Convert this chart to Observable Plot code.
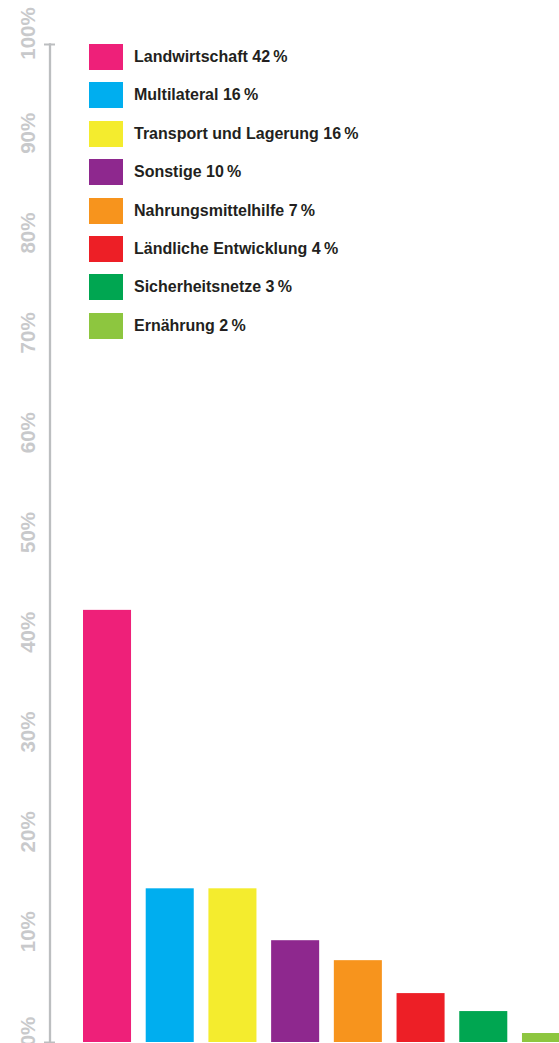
<!DOCTYPE html>
<html>
<head>
<meta charset="utf-8">
<script src="https://cdn.jsdelivr.net/npm/d3@7"></script>
<script src="https://cdn.jsdelivr.net/npm/@observablehq/plot@0.6"></script>
<style>
  html, body { margin: 0; padding: 0; background: #fff; overflow: hidden; }
  #wrap { position: relative; width: 559px; height: 1043px; overflow: hidden; }
  #legend { position: absolute; left: 89px; top: 44px; font-family: "Liberation Sans", Arial, sans-serif; }
  .row { display: flex; align-items: center; height: 26px; margin-bottom: 12.4px; }
  .sw { width: 34px; height: 26px; flex: none; }
  .lab { margin-left: 11px; font-size: 16px; font-weight: bold; color: #231f20; white-space: nowrap; }
</style>
</head>
<body>
<div id="wrap"><div id="legend"></div></div>
<script>
const categories = ["Landwirtschaft", "Multilateral", "Transport und Lagerung", "Sonstige", "Nahrungsmittelhilfe", "Ländliche Entwicklung", "Sicherheitsnetze", "Ernährung"];
const shares = [42, 16, 16, 10, 7, 4, 3, 2];
const barValues = [43.3, 15.4, 15.4, 10.2, 8.2, 4.9, 3.1, 0.9];
const colors = ["#ee2079", "#00aeef", "#f4ec2e", "#8e288e", "#f7941d", "#ed1f26", "#00a651", "#8dc63f"];
const yTicks = [0, 10, 20, 30, 40, 50, 60, 70, 80, 90, 100];

const data = categories.map((c, i) => ({name: c, value: barValues[i]}));
const font = '"Liberation Sans", Arial, sans-serif';

const chart = Plot.plot({
  width: 559,
  height: 1043,
  marginLeft: 49.5,
  marginTop: 44,
  marginBottom: 1,
  marginRight: 0,
  style: {fontFamily: font, background: "white", overflow: "hidden"},
  x: {domain: categories, range: [83, 570], paddingInner: 0.234, paddingOuter: 0, round: false, axis: null},
  y: {domain: [0, 100]},
  color: {domain: categories, range: colors},
  marks: [
    Plot.frame({anchor: "left", stroke: "#bcbec0", strokeWidth: 2.3}),
    Plot.axisY({ticks: [0, 100], tickSize: 11, dx: 5.5, tickFormat: () => "", label: null, stroke: "#bcbec0", strokeWidth: 2}),
    Plot.axisY({ticks: yTicks, tickSize: 0, tickPadding: 0, dx: -21.5, dy: -11, rotate: -90, textAnchor: "middle",
      tickFormat: d => d + "%", label: null, fill: "#c8c9cb", fontSize: 20.5, fontWeight: "bold"}),
    Plot.barY(data, {x: "name", y: "value", fill: "name", inset: 0})
  ]
});
document.getElementById("wrap").prepend(chart);

const legend = d3.select("#legend");
categories.forEach((c, i) => {
  const row = legend.append("div").attr("class", "row");
  row.append("div").attr("class", "sw").style("background", colors[i]);
  row.append("div").attr("class", "lab").text(c + " " + shares[i] + "\u2009%");
});
</script>
</body>
</html>
